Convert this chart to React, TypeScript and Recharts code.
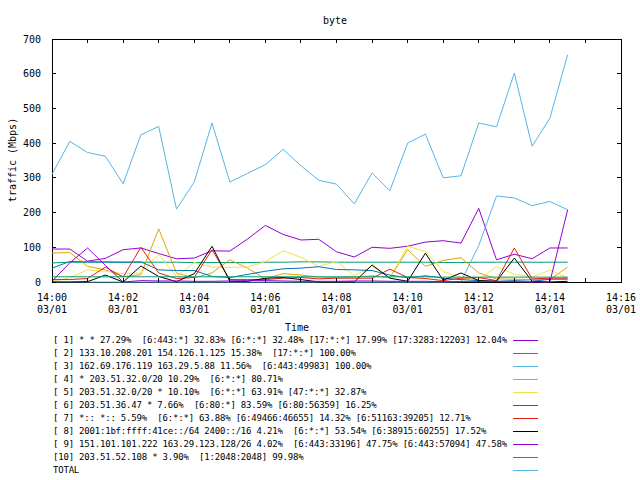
import React from 'react';
import { LineChart, Line, XAxis, YAxis, ReferenceArea } from 'recharts';

// sample times (every 30 s)
const times = [
  '14:00:00', '14:00:30', '14:01:00', '14:01:30', '14:02:00', '14:02:30',
  '14:03:00', '14:03:30', '14:04:00', '14:04:30', '14:05:00', '14:05:30',
  '14:06:00', '14:06:30', '14:07:00', '14:07:30', '14:08:00', '14:08:30',
  '14:09:00', '14:09:30', '14:10:00', '14:10:30', '14:11:00', '14:11:30',
  '14:12:00', '14:12:30', '14:13:00', '14:13:30', '14:14:00', '14:14:30',
];

const s1 = [95, 95, 60, 68, 93, 98, 82, 67, 69, 90, 89, 124, 163, 137, 121, 123, 87, 72, 100, 97, 103, 115, 119, 112, 212, 64, 80, 67, 98, 98];
const s2 = [55, 57, 57, 57, 57, 57, 57, 57, 56, 56, 56, 56, 57, 57, 58, 58, 57, 57, 57, 57, 57, 57, 56, 56, 57, 57, 57, 57, 57, 57];
const s3 = [0, 0, 0, 0, 0, 0, 0, 0, 0, 0, 0, 0, 0, 0, 0, 0, 0, 0, 0, 0, 0, 0, 0, 1, 105, 248, 242, 220, 232, 208];
const s4 = [83, 85, 45, 35, 16, 21, 153, 26, 12, 26, 64, 40, 9, 24, 20, 14, 13, 14, 18, 12, 93, 45, 62, 70, 26, 9, 8, 7, 7, 43];
const s5 = [2, 12, 35, 31, 24, 26, 79, 16, 56, 43, 42, 43, 59, 90, 71, 45, 59, 18, 45, 12, 103, 88, 31, 12, 7, 45, 22, 14, 34, 12];
const s6 = [40, 59, 58, 58, 57, 58, 35, 33, 33, 16, 13, 22, 31, 38, 40, 44, 36, 35, 33, 20, 12, 18, 11, 7, 4, 2, 4, 2, 8, 8];
const s7 = [7, 7, 10, 43, 14, 100, 26, 10, 13, 93, 7, 7, 7, 11, 13, 9, 11, 11, 11, 37, 13, 10, 4, 11, 13, 4, 98, 9, 11, 11];
const s8 = [0, 0, 1, 20, 0, 46, 16, 1, 24, 103, 2, 2, 11, 13, 7, 0, 0, 0, 49, 11, 2, 83, 5, 26, 4, 2, 69, 2, 0, 2];
const s9 = [2, 55, 98, 48, 0, 4, 3, 3, 2, 2, 3, 4, 4, 3, 2, 2, 2, 3, 3, 2, 2, 2, 1, 1, 1, 1, 1, 0, 0, 208];
const s10 = [15, 15, 15, 15, 15, 15, 15, 15, 15, 15, 15, 15, 15, 15, 15, 15, 15, 15, 15, 15, 15, 15, 14, 14, 14, 14, 14, 14, 14, 14];
const total = [310, 405, 373, 362, 283, 424, 448, 210, 288, 458, 288, 313, 338, 382, 335, 293, 282, 225, 314, 263, 400, 426, 300, 306, 458, 447, 602, 391, 472, 655];

const seriesValues = [s1, s2, s3, s4, s5, s6, s7, s8, s9, s10, total];

const seriesNames = [
  '[ 1] * * 27.29%  [6:443:*] 32.83% [6:*:*] 32.48% [17:*:*] 17.99% [17:3283:12203] 12.04%',
  '[ 2] 133.10.208.201 154.126.1.125 15.38%  [17:*:*] 100.00%',
  '[ 3] 162.69.176.119 163.29.5.88 11.56%  [6:443:49983] 100.00%',
  '[ 4] * 203.51.32.0/20 10.29%  [6:*:*] 80.71%',
  '[ 5] 203.51.32.0/20 * 10.10%  [6:*:*] 63.91% [47:*:*] 32.87%',
  '[ 6] 203.51.36.47 * 7.66%  [6:80:*] 83.59% [6:80:56359] 16.25%',
  '[ 7] *:: *:: 5.59%  [6:*:*] 63.88% [6:49466:46655] 14.32% [6:51163:39205] 12.71%',
  '[ 8] 2001:1bf:ffff:41ce::/64 2400::/16 4.21%  [6:*:*] 53.54% [6:38915:60255] 17.52%',
  '[ 9] 151.101.101.222 163.29.123.128/26 4.02%  [6:443:33196] 47.75% [6:443:57094] 47.58%',
  '[10] 203.51.52.108 * 3.90%  [1:2048:2048] 99.98%',
  'TOTAL',
];

const seriesColors = [
  '#9400d3', '#009e73', '#56b4e9', '#e69f00', '#f0e442',
  '#0072b2', '#e51e10', '#000000', '#9400d3', '#009e73', '#56b4e9',
];

const yTicks = [0, 100, 200, 300, 400, 500, 600, 700];
const minuteLabels = [
  '14:00', '14:01', '14:02', '14:03', '14:04', '14:05', '14:06', '14:07', '14:08',
  '14:09', '14:10', '14:11', '14:12', '14:13', '14:14', '14:15', '14:16',
];
const dateLabel = '03/01';
const titleText = 'byte';
const xLabelText = 'Time';
const yLabelText = 'traffic (Mbps)';

// ---- layout ----
const W = 640;
const H = 480;
const PL = 52;
const PR = 621;
const PT = 39;
const PB = 282;
const TICK = 4;
const FONT = '"DejaVu Sans Mono", "Liberation Mono", monospace';

const toSec = (t: string) => {
  const [h, m, s] = t.split(':').map(Number);
  return (h - 14) * 3600 + m * 60 + s;
};

const data = times.map((t, i) => {
  const row: Record<string, number> = { t: toSec(t) };
  seriesValues.forEach((arr, k) => {
    row[`s${k}`] = arr[i];
  });
  return row;
});

const minuteTicks = minuteLabels.map((lab) => toSec(lab + ':00'));
const xMax = minuteTicks[minuteTicks.length - 1];

const XTick = (props: any) => {
  const { x, payload } = props;
  const idx = minuteTicks.indexOf(payload.value);
  const showLabel = idx % 2 === 0;
  return (
    <g>
      <line x1={x} x2={x} y1={PB} y2={PB - TICK} stroke="#000" shapeRendering="crispEdges" />
      <line x1={x} x2={x} y1={PT} y2={PT + TICK} stroke="#000" shapeRendering="crispEdges" />
      {showLabel && (
        <text x={x} y={297} textAnchor="middle" dominantBaseline="central" fontFamily={FONT} fontSize={10} fill="#000">
          {minuteLabels[idx]}
        </text>
      )}
      {showLabel && (
        <text x={x} y={309} textAnchor="middle" dominantBaseline="central" fontFamily={FONT} fontSize={10} fill="#000">
          {dateLabel}
        </text>
      )}
    </g>
  );
};

const YTick = (props: any) => {
  const { y, payload } = props;
  return (
    <g>
      <line x1={PL} x2={PL + TICK} y1={y} y2={y} stroke="#000" shapeRendering="crispEdges" />
      <line x1={PR} x2={PR - TICK} y1={y} y2={y} stroke="#000" shapeRendering="crispEdges" />
      <text x={41} y={y} textAnchor="end" dominantBaseline="central" fontFamily={FONT} fontSize={10} fill="#000">
        {payload.value}
      </text>
    </g>
  );
};

export default function App() {
  return (
    <div style={{ position: 'absolute', left: 0, top: 0, width: W, height: H, background: '#fff' }}>
      <LineChart
        width={W}
        height={H}
        data={data}
        margin={{ top: PT, right: W - PR, left: 0, bottom: H - PB - 30 }}
      >
        <XAxis
          dataKey="t"
          type="number"
          domain={[0, xMax]}
          ticks={minuteTicks}
          interval={0}
          axisLine={false}
          tickLine={false}
          height={30}
          tick={(p: any) => <XTick {...p} />}
        />
        <YAxis
          type="number"
          domain={[0, yTicks[yTicks.length - 1]]}
          ticks={yTicks}
          interval={0}
          axisLine={false}
          tickLine={false}
          width={PL}
          tick={(p: any) => <YTick {...p} />}
        />
        {seriesValues.map((_, k) => (
          <Line
            key={k}
            type="linear"
            dataKey={`s${k}`}
            stroke={seriesColors[k]}
            strokeWidth={1}
            dot={false}
            activeDot={false}
            isAnimationActive={false}
          />
        ))}
        <ReferenceArea
          x1={0}
          x2={xMax}
          y1={0}
          y2={yTicks[yTicks.length - 1]}
          fill="none"
          fillOpacity={0}
          stroke="#000"
          strokeWidth={1}
          shapeRendering="crispEdges"
          ifOverflow="visible"
        />
      </LineChart>
      <svg
        width={W}
        height={H}
        style={{ position: 'absolute', left: 0, top: 0, pointerEvents: 'none' }}
      >
        <text x={335} y={20} textAnchor="middle" dominantBaseline="central" fontFamily={FONT} fontSize={10} fill="#000">
          {titleText}
        </text>
        <text x={297} y={327} textAnchor="middle" dominantBaseline="central" fontFamily={FONT} fontSize={10} fill="#000">
          {xLabelText}
        </text>
        <text
          x={12}
          y={160}
          textAnchor="middle"
          dominantBaseline="central"
          fontFamily={FONT}
          fontSize={10}
          fill="#000"
          transform="rotate(-90 12 160)"
        >
          {yLabelText}
        </text>
        {seriesNames.map((name, k) => {
          const y = 340 + k * 13;
          return (
            <g key={k}>
              <text
                x={53}
                y={y}
                dominantBaseline="central"
                fontFamily={FONT}
                fontSize={9}
                letterSpacing={-0.2}
                fill="#000"
                style={{ whiteSpace: 'pre' }}
              >
                {name}
              </text>
              <line x1={513} x2={538} y1={y} y2={y} stroke={seriesColors[k]} strokeWidth={1} shapeRendering="crispEdges" />
            </g>
          );
        })}
      </svg>
    </div>
  );
}
